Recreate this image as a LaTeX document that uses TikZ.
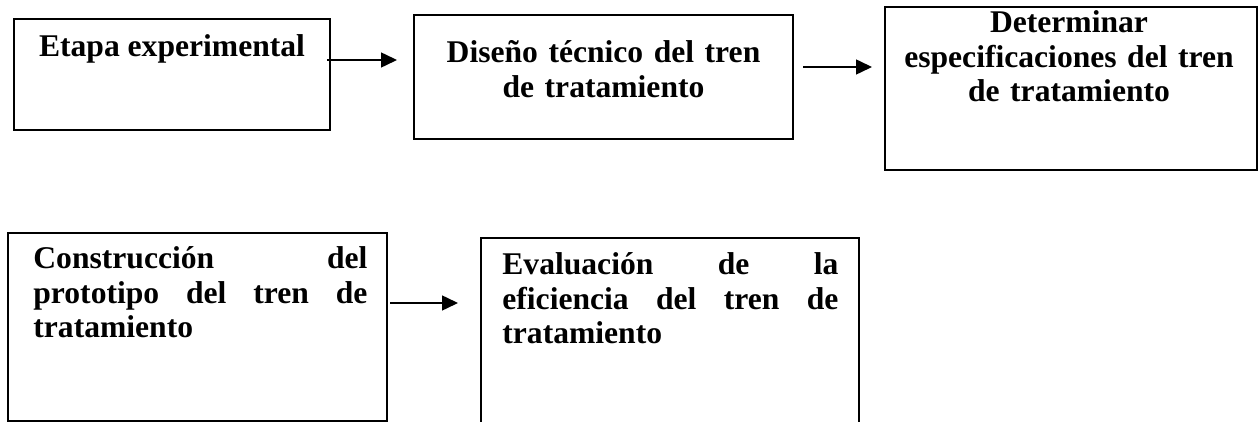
\documentclass[tikz,border=0pt]{standalone}
\usepackage{fontspec}
\setmainfont{Liberation Serif}
\usetikzlibrary{arrows.meta}
\hyphenpenalty=10000
\exhyphenpenalty=10000
\tolerance=10000
\begin{document}
\begin{tikzpicture}[x=0.5pt,y=-0.5pt,
    stage/.style={draw, line width=0.9pt, inner sep=0pt, outer sep=0pt},
    stagetext/.style={font=\bfseries\fontsize{15.8}{17.25}\selectfont, inner sep=0pt, anchor=base},
    stagepara/.style={stagetext, anchor=base west, align=justify},
    flow/.style={-{Triangle[length=8pt,width=7.5pt]}, line width=0.75pt}]
  \useasboundingbox (0,0) rectangle (1259,422);
  \clip (0,0) rectangle (1259,422);
  \node[stage, minimum width=158pt, minimum height=55.5pt] (etapa) at (172,74.5) {};
  \node[stage, minimum width=189.5pt, minimum height=62pt] (diseno) at (603.5,77) {};
  \node[stage, minimum width=186pt, minimum height=81.5pt] (especif) at (1071,88.5) {};
  \node[stage, minimum width=189.5pt, minimum height=94pt] (construc) at (197.5,327) {};
  \node[stage, minimum width=189pt, minimum height=106pt] (evalua) at (670,344) {};
  \node[stagetext] (etapatxt) at (172,57) {Etapa experimental};
  \node[stagetext, text width=185pt, align=center] (disenotxt) at (603.5,63)
    {Diseño técnico del tren\\de tratamiento};
  \node[stagetext, text width=185pt, align=center] (especiftxt) at (1069,33)
    {Determinar\\especificaciones del tren\\de tratamiento};
  \node[stagepara, text width=167pt] (constructxt) at (33,269)
    {Construcción del prototipo del tren de tratamiento};
  \node[stagepara, text width=168pt] (evaluatxt) at (502,275)
    {Evaluación de la eficiencia del tren de tratamiento};
  \draw[flow, shorten <=-1.5pt, shorten >=8.5pt]
    (etapa.east |- 0,60) -- (diseno.west |- 0,60);
  \draw[flow, shorten <=5pt, shorten >=6.5pt]
    (diseno.east |- 0,67) -- (especif.west |- 0,67);
  \draw[flow, shorten <=1.5pt, shorten >=11.5pt]
    (construc.east |- 0,303) -- (evalua.west |- 0,303);
\end{tikzpicture}
\end{document}
